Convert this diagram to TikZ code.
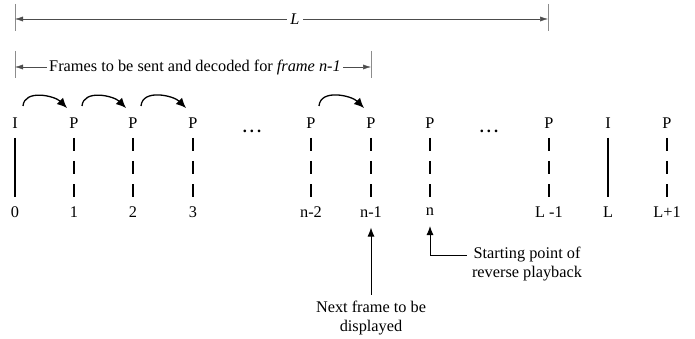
\documentclass[tikz,border=0pt]{standalone}
\usepackage{fontspec}
\setmainfont{Liberation Serif}
\usetikzlibrary{arrows.meta}
\begin{document}
\begin{tikzpicture}[x=1pt,y=-1pt,
  font=\fontsize{16.3}{19}\selectfont,
  lbl/.style={inner sep=0pt},
  dimline/.style={draw=black!70, line width=0.5pt, {Latex[length=8pt,width=5pt]}-{Latex[length=8pt,width=5pt]}},
  tick/.style={draw=black!45, line width=0.8pt},
  solidframe/.style={line width=2pt},
  dashframe/.style={line width=2pt, dash pattern=on 13pt off 10pt},
  curv/.style={line width=1.3pt, -{Latex[length=10pt,width=9pt]}},
  uparr/.style={line width=0.9pt, -{Latex[length=9pt,width=7pt]}}]
\useasboundingbox (0,0) rectangle (695,339);

% top dimension L
\coordinate (La) at (15,19);
\coordinate (Lb) at (548,19);
\draw[tick] (15,4) -- (15,31);
\draw[tick] (548,4) -- (548,31);
\draw[dimline] (La) -- (Lb);
\node[lbl, fill=white, inner xsep=3pt, font=\fontsize{16.3}{19}\selectfont\itshape] (Llab) at (295,19) {L};

% second dimension
\coordinate (Fa) at (15,67);
\coordinate (Fb) at (371,67);
\draw[tick] (15,51) -- (15,78);
\draw[tick] (371,51) -- (371,78);
\draw[dimline] (Fa) -- (Fb);
\node[lbl, fill=white, inner xsep=2pt] (Flab) at (195,67) {Frames to be sent and decoded for \textit{frame n-1}};

% frame type letters
\foreach \i/\x/\t in {0/15/I,1/74/P,2/133/P,3/193/P,5/311/P,6/371/P,7/430/P,9/549/P,10/608/I,11/667/P}{
  \node[lbl] (f\i) at (\x,123) {\t};
}
% dots
\node[lbl, font=\fontsize{16.3}{19}\selectfont\bfseries] (d1) at (252,131) {.\hspace{3pt}.\hspace{3pt}.};
\node[lbl, font=\fontsize{16.3}{19}\selectfont\bfseries] (d2) at (489,131) {.\hspace{3pt}.\hspace{3pt}.};

% frame numbers
\foreach \i/\x/\t in {0/15/0,1/74/1,2/133/2,3/193/3,5/311/n-2,6/371/n-1,7/430/n,9/549/L -1,10/608/L,11/667/L+1}{
  \node[lbl] (n\i) at (\x,212) {\t};
}

% frame lines
\foreach \i in {0,10}{
  \draw[solidframe] (f\i.center |- 0,138) -- (f\i.center |- 0,197);
}
\foreach \i in {1,2,3,5,6,7,9,11}{
  \draw[dashframe] (f\i.center |- 0,138) -- (f\i.center |- 0,197);
}

% curved prediction arrows
\foreach \a/\b in {0/1,1/2,2/3,5/6}{
  \draw[curv] ([shift={(8,-17)}]f\a.center) to[out=85,in=135] ([shift={(-7,-15)}]f\b.center);
}

% bottom annotations
\node[lbl, align=center] (nxt) at (371,318) {Next frame to be\\displayed};
\draw[uparr, shorten >=10pt, shorten <=6pt] (nxt.north) -- (n6.south);

\node[lbl, align=center] (st) at (527,264) {Starting point of\\reverse playback};
\draw[uparr, shorten >=10pt, shorten <=5pt] ([yshift=9pt]st.west) -| (n7.south);
\end{tikzpicture}
\end{document}
